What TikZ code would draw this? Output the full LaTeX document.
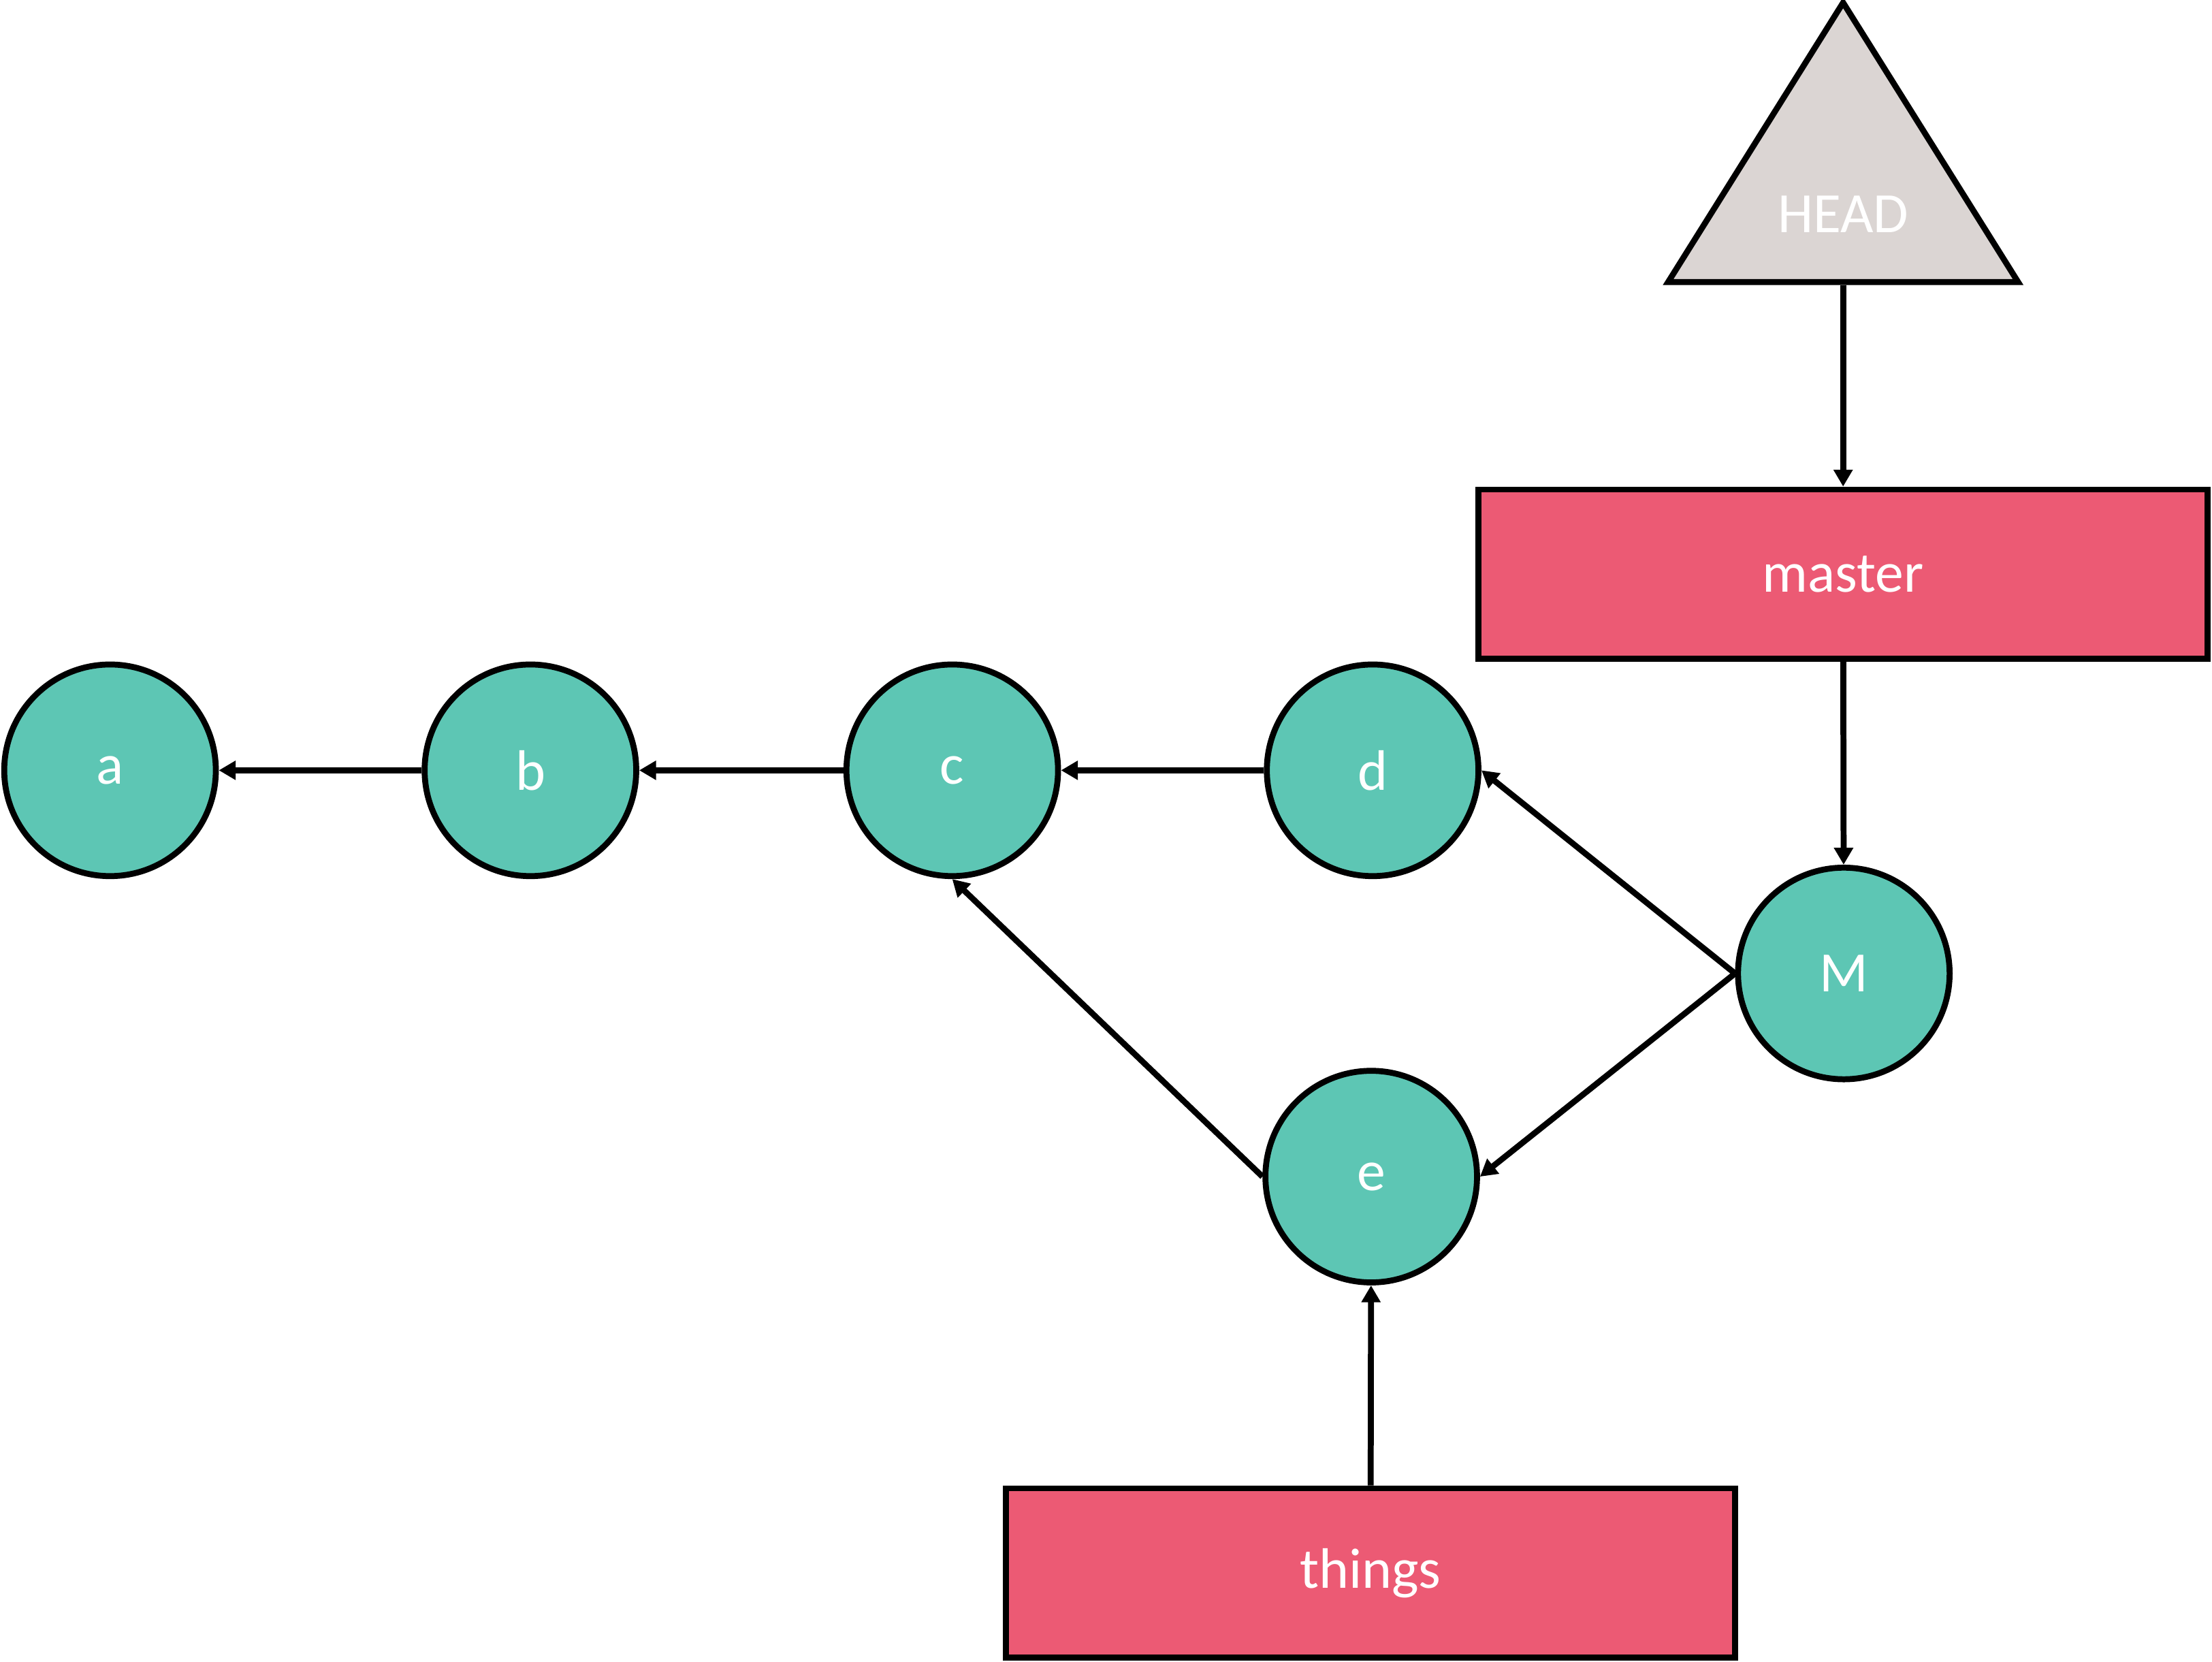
\documentclass[tikz,border=0pt]{standalone}
\usepackage{fontspec}
\setmainfont{Carlito}
\usetikzlibrary{shapes.geometric}
\usetikzlibrary{positioning}
\usetikzlibrary{arrows.meta}

\definecolor{committeal}{HTML}{5DC6B4}
\definecolor{branchred}{HTML}{EC5A74}
\definecolor{headgrey}{HTML}{DBD5D3}

\tikzset{
    commit/.style = {circle, draw, fill = committeal, minimum size = 1.5cm, inner sep = 0pt, text = white},
    branch/.style = {rectangle, draw, fill = branchred, minimum width = 5.17cm, minimum height = 1.2cm, inner sep = 0pt, text = white},
    headtri/.style = {isosceles triangle, isosceles triangle stretches, shape border rotate = 90, draw, fill = headgrey, minimum width = 2.48cm, minimum height = 1.98cm, inner sep = 0pt},
    link/.style = {-{Triangle[length = 3.4pt, width = 3.7pt]}},
}

\begin{document}
\begin{tikzpicture}[black, line width = 1.2pt, font = \fontsize{11.5}{14}\selectfont]

    \useasboundingbox (0,0) rectangle (15.68,-11.78);

    % commits
    \node (a) at (0.78,-5.46) [commit] {a};
    \node (b) at (3.76,-5.46) [commit] {b};
    \node (c) at (6.75,-5.46) [commit] {c};
    \node (d) at (9.73,-5.46) [commit] {d};
    \node (e) at (9.72,-8.34) [commit] {e};
    \node (M) at (13.07,-6.90) [commit] {M};

    % branches
    \node (master) at (13.065,-4.07) [branch] {master};
    \node (things) at (9.715,-11.15) [branch] {things};

    % HEAD
    \node (head) at (13.065,-2.02) [headtri, anchor = south] {};
    \node (headlabel) at (13.065,-1.52) [text = white] {HEAD};

    % history
    \draw[link] (b) -- (a);
    \draw[link] (c) -- (b);
    \draw[link] (d) -- (c);
    \draw[link] (e.west) -- (c.south);
    \draw[link] (M.west) -- (d.east);
    \draw[link] (M.west) -- (e.east);

    % refs
    \draw[link] (master) -- (M);
    \draw[link] (things) -- (e);
    \draw[link] (head.south) -- (master);

\end{tikzpicture}
\end{document}
